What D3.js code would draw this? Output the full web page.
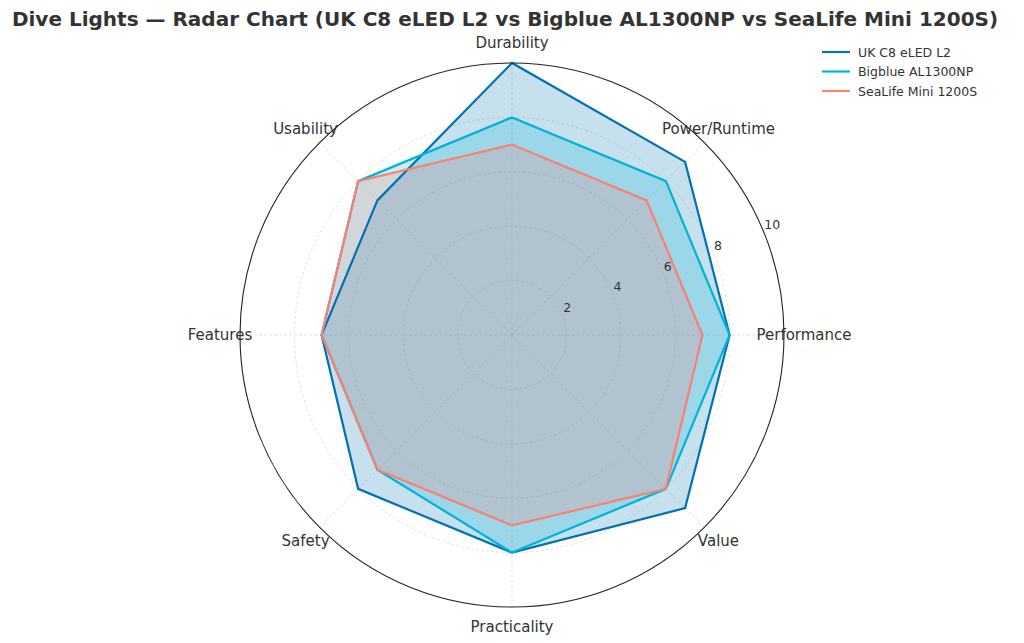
<!DOCTYPE html>
<html>
<head>
<meta charset="utf-8">
<script src="https://cdn.jsdelivr.net/npm/d3@7"></script>
<style>
  body { margin: 0; background: #fff; }
  svg { font-family: "DejaVu Sans", sans-serif; }
</style>
</head>
<body>
<svg id="chart" width="1024" height="643"></svg>
<script>
// axes go counter-clockwise starting at the right
var axes = ["Performance", "Power/Runtime", "Durability", "Usability", "Features", "Safety", "Practicality", "Value"];
var ukC8 = [8, 9, 10, 7, 7, 8, 8, 9];
var bigblue = [8, 8, 8, 8, 7, 7, 8, 8];
var sealife = [7, 7, 7, 8, 7, 7, 7, 8];
var seriesNames = ["UK C8 eLED L2", "Bigblue AL1300NP", "SeaLife Mini 1200S"];
var seriesColors = ["#0072B2", "#00B4D8", "#FA8072"];
var rTicks = [2, 4, 6, 8, 10];

var svg = d3.select("#chart");
var cx = 512, cy = 335;
var r = d3.scaleLinear().domain([0, 10]).range([0, 272]);
var angle = d3.scaleLinear().domain([0, axes.length]).range([0, 2 * Math.PI]);

function px(i, v) { return cx + r(v) * Math.cos(angle(i)); }
function py(i, v) { return cy - r(v) * Math.sin(angle(i)); }

// title
svg.append("text")
  .attr("x", 505).attr("y", 26)
  .attr("text-anchor", "middle")
  .attr("font-size", 20).attr("font-weight", "bold")
  .attr("fill", "#333")
  .text("Dive Lights \u2014 Radar Chart (UK C8 eLED L2 vs Bigblue AL1300NP vs SeaLife Mini 1200S)");

var grid = svg.append("g");
// dashed grid circles
grid.selectAll(".ring")
  .data(rTicks.slice(0, -1))
  .enter().append("circle")
  .attr("cx", cx).attr("cy", cy)
  .attr("r", function(d) { return r(d); })
  .attr("fill", "none")
  .attr("stroke", "#d0d0d0")
  .attr("stroke-width", 0.7)
  .attr("stroke-dasharray", "2.5,2.5");

// spokes
grid.selectAll(".spoke")
  .data(axes)
  .enter().append("line")
  .attr("x1", cx).attr("y1", cy)
  .attr("x2", function(d, i) { return px(i, 10); })
  .attr("y2", function(d, i) { return py(i, 10); })
  .attr("stroke", "#d0d0d0")
  .attr("stroke-width", 0.7)
  .attr("stroke-dasharray", "2.5,2.5");

// series polygons
var allSeries = [ukC8, bigblue, sealife];
var line = d3.lineRadial()
  .angle(function(d, i) { return Math.PI / 2 - angle(i); })
  .radius(function(d) { return r(d); })
  .curve(d3.curveLinearClosed);

var polys = svg.append("g").attr("transform", "translate(" + cx + "," + cy + ")");
allSeries.forEach(function(s, k) {
  polys.append("path")
    .attr("d", line(s))
    .attr("fill", seriesColors[k])
    .attr("fill-opacity", 0.22)
    .attr("stroke", "none");
});
allSeries.forEach(function(s, k) {
  polys.append("path")
    .attr("d", line(s))
    .attr("fill", "none")
    .attr("stroke", seriesColors[k])
    .attr("stroke-width", 2.2)
    .attr("stroke-linejoin", "miter");
});

// outer frame
svg.append("circle")
  .attr("cx", cx).attr("cy", cy).attr("r", r(10))
  .attr("fill", "none")
  .attr("stroke", "#222")
  .attr("stroke-width", 1.1);

// radial tick labels at 22.5 deg
var la = Math.PI / 8;
svg.selectAll(".rlabel")
  .data(rTicks)
  .enter().append("text")
  .attr("x", function(d) { return cx + r(d) * Math.cos(la) + 1; })
  .attr("y", function(d) { return cy - r(d) * Math.sin(la) - 2; })
  .attr("font-size", 12.5)
  .attr("fill", "#333")
  .text(function(d) { return d; });

// axis labels
svg.selectAll(".alabel")
  .data(axes)
  .enter().append("text")
  .attr("x", function(d, i) { return cx + 292 * Math.cos(angle(i)); })
  .attr("y", function(d, i) { return cy - 292 * Math.sin(angle(i)); })
  .attr("text-anchor", "middle")
  .attr("dominant-baseline", "central")
  .attr("font-size", 15)
  .attr("fill", "#333")
  .text(function(d) { return d; });

// legend
var legend = svg.append("g").attr("transform", "translate(822,52)");
seriesNames.forEach(function(n, k) {
  var g = legend.append("g").attr("transform", "translate(0," + (k * 19.5) + ")");
  g.append("line")
    .attr("x1", 0).attr("x2", 28).attr("y1", 0).attr("y2", 0)
    .attr("stroke", seriesColors[k]).attr("stroke-width", 2.2);
  g.append("text")
    .attr("x", 36).attr("y", 0)
    .attr("dominant-baseline", "central")
    .attr("font-size", 12.5)
    .attr("fill", "#333")
    .text(n);
});
</script>
</body>
</html>
